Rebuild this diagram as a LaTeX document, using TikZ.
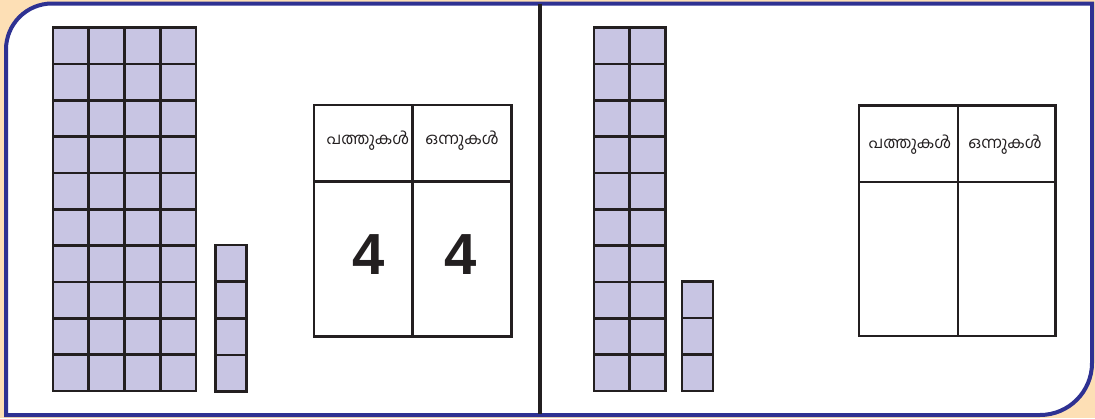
\documentclass[tikz,border=0pt]{standalone}
\usepackage{fontspec}
\newfontfamily\mlfont[Script=Malayalam]{Hind Kochi}
\newfontfamily\numfont{Liberation Sans}
\definecolor{peach}{HTML}{FDDFB5}
\definecolor{frameblue}{HTML}{2E3192}
\definecolor{lav}{HTML}{C8C5E3}
\definecolor{ink}{HTML}{231F20}
\tikzset{
  cell/.style={fill=lav, draw=ink, line width=2.6pt},
  tbl/.style={draw=ink, line width=2.4pt},
  head/.style={font=\mlfont\fontsize{16}{16}\selectfont, text=ink, inner sep=0pt},
  digit/.style={font=\numfont\bfseries\fontsize{58}{58}\selectfont, text=ink, inner sep=0pt}
}
\begin{document}
\begin{tikzpicture}[x=1pt,y=-1pt]
\useasboundingbox (0,0) rectangle (1095,418);
\fill[peach] (0,0) rectangle (1095,418);
% frame
\draw[frameblue, line width=4pt, fill=white]
  (6,415) -- (6,200) [rounded corners=46] -- (6,3.5) -- (300,3.5) [sharp corners]
  -- (1092,3.5) -- (1092,200) [rounded corners=52] -- (1092,415) -- (700,415) [sharp corners]
  -- cycle;
% divider
\draw[ink, line width=4pt] (540,3.5) -- (540,414);
% left big grid 4x10
\foreach \i in {0,...,3}{
  \foreach \j in {0,...,9}{
    \draw[cell] ({53+\i*35.75},{27.5+\j*36.35}) rectangle ++(35.75,36.35);
  }
}
% left small column 4
\foreach \j in {0,...,3}{
  \draw[cell] (215.5,{245+\j*36.6}) rectangle ++(31,36.6);
}
% right big grid 2x10
\foreach \i in {0,...,1}{
  \foreach \j in {0,...,9}{
    \draw[cell] ({594+\i*35.75},{27.5+\j*36.35}) rectangle ++(35.75,36.35);
  }
}
% right small column 3
\foreach \j in {0,...,2}{
  \draw[cell] (682,{281.5+\j*36.5}) rectangle ++(31,36.5);
}
% left table
\draw[tbl] (314,105) rectangle (511.5,336.5);
\draw[tbl] (314,181.5) -- (511.5,181.5);
\draw[tbl] (412.5,105) -- (412.5,336.5);
\node[head] (lh1) at (368,141) {പത്തുകൾ};
\node[head] (lh2) at (462,141) {ഒന്നുകൾ};
\node[digit] (ld1) at (368.5,255) {4};
\node[digit] (ld2) at (461,255) {4};
% right table
\draw[tbl] (859,105.5) rectangle (1055.5,336);
\draw[tbl] (859,182) -- (1055.5,182);
\draw[tbl] (958,105.5) -- (958,336);
\node[head] (rh1) at (910,145) {പത്തുകൾ};
\node[head] (rh2) at (1005,145) {ഒന്നുകൾ};
\end{tikzpicture}
\end{document}
